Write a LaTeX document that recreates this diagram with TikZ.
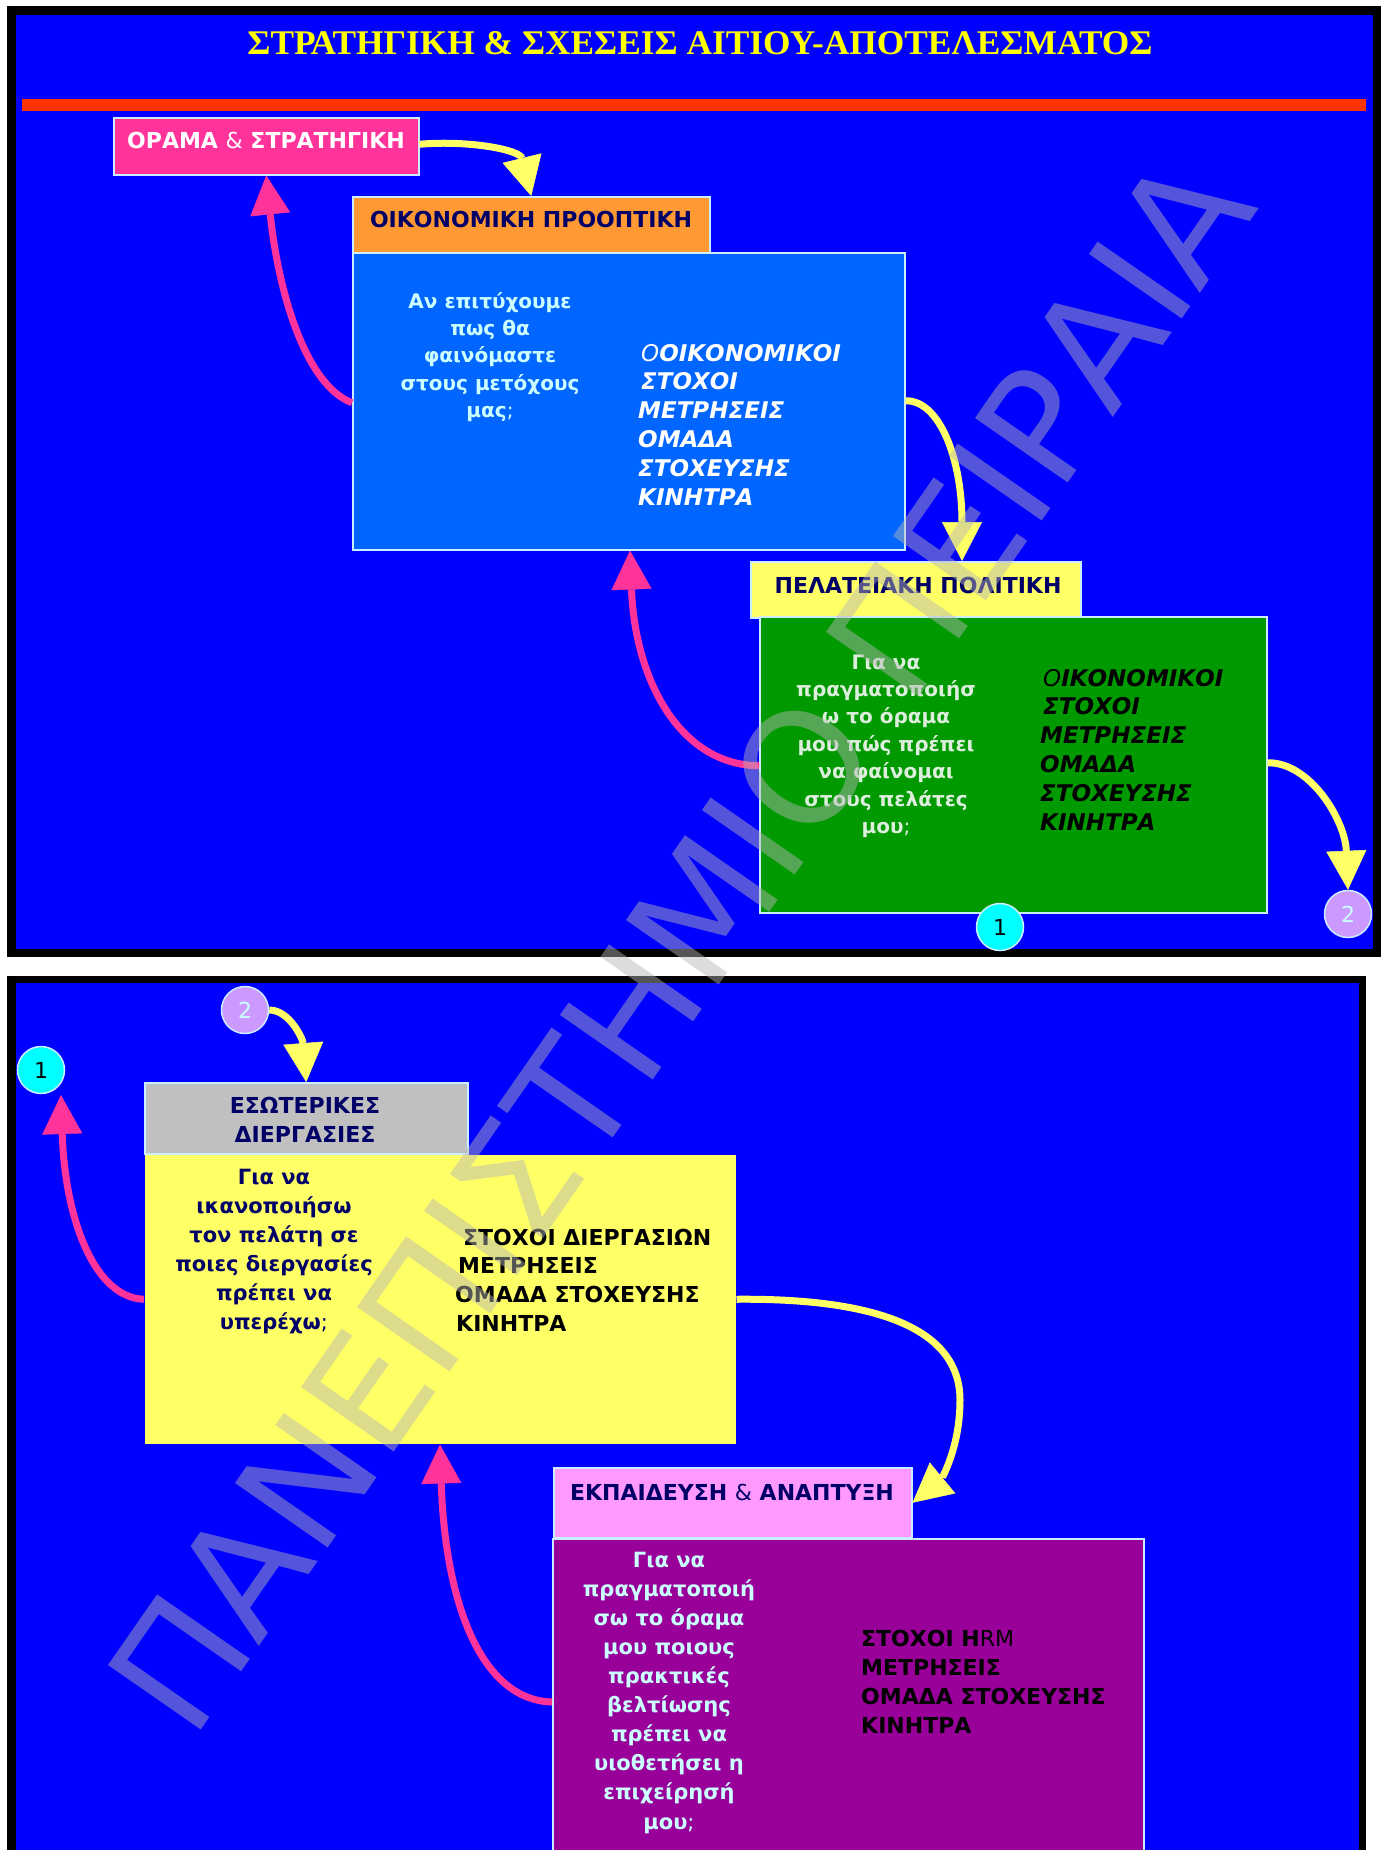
\documentclass[tikz,border=0pt]{standalone}
\usepackage{fontspec}
\setmainfont{DejaVu Sans}[BoldFont={DejaVu Sans Bold},ItalicFont={DejaVu Sans Oblique},BoldItalicFont={DejaVu Sans Bold Oblique}]
\newfontfamily\titlefont{Liberation Serif}
\usetikzlibrary{arrows.meta,calc}

\definecolor{slideblue}{HTML}{0000FF}
\definecolor{barred}{HTML}{FF3300}
\definecolor{titleyellow}{HTML}{FFFF00}
\definecolor{hotpink}{HTML}{FF3399}
\definecolor{paleyellow}{HTML}{FFFF66}
\definecolor{edgeblue}{HTML}{CCECFF}
\definecolor{orangehd}{HTML}{FF9933}
\definecolor{skyblue}{HTML}{0066FF}
\definecolor{deepnavy}{HTML}{000066}
\definecolor{lightcyan}{HTML}{CCFFFF}
\definecolor{grassgreen}{HTML}{009900}
\definecolor{palegreen}{HTML}{DDEEDD}
\definecolor{silvergray}{HTML}{C0C0C0}
\definecolor{orchidpink}{HTML}{FF99FF}
\definecolor{plumpurple}{HTML}{990099}
\definecolor{aquablue}{HTML}{00FFFF}
\definecolor{lavender}{HTML}{CC99FF}
\definecolor{wmgray}{HTML}{B6B6B6}

\tikzset{
  card/.style={draw=edgeblue, line width=1.5pt, inner sep=0pt, anchor=north west},
  badge/.style={circle, minimum size=47pt, inner sep=0pt, draw=edgeblue, line width=1.5pt,
                font=\fontsize{22}{24}\selectfont},
  hdtext/.style={font=\bfseries\fontsize{22}{26}\selectfont, text=deepnavy, inner sep=0pt, anchor=base},
  qtext/.style={align=center, anchor=north, inner sep=0pt},
  ltext/.style={align=left, anchor=north west, inner sep=0pt},
  tipshape/.style={-{Triangle[length=39pt 0 0,width=40pt 0 0,line width=0.5pt 0 0]}},
  sunarrow/.style={draw=paleyellow, line width=7pt, tipshape},
  pinkarrow/.style={draw=hotpink, line width=7pt, tipshape},
  wmark/.style={font=\fontsize{155}{160}\selectfont, text=wmgray, text opacity=0.47, inner sep=0pt}
}

\begin{document}
\begin{tikzpicture}[x=1pt,y=-1pt]
\useasboundingbox (0,0) rectangle (1384,1850);
\clip (0,0) rectangle (1384,1850);
\fill[white] (0,0) rectangle (1384,1850);

% upper slide frame
\fill[black] (7,6) rectangle (1381,957);
\fill[slideblue] (16,15) rectangle (1373,949);
\fill[barred] (22,99) rectangle (1366,111);
% lower slide frame
\fill[black] (7,976) rectangle (1366,1870);
\fill[slideblue] (16,983) rectangle (1359,1870);

% title
\node[anchor=south, inner sep=0pt, text=titleyellow] (title) at (700,55)
  {\resizebox{905pt}{23pt}{\titlefont\bfseries ΣΤΡΑΤΗΓΙΚΗ \& ΣΧΕΣΕΙΣ ΑΙΤΙΟΥ-ΑΠΟΤΕΛΕΣΜΑΤΟΣ}};

% upper slide boxes
\node[card, fill=hotpink, minimum width=305pt, minimum height=57pt] (orama) at (113,117) {};
\node[card, fill=orangehd, minimum width=357pt, minimum height=57pt] (oikhead) at (352,196) {};
\node[card, fill=skyblue, minimum width=552pt, minimum height=297pt] (oikbox) at (352,252) {};
\node[card, fill=paleyellow, minimum width=330pt, minimum height=56pt] (pelhead) at (750,561) {};
\node[card, fill=grassgreen, minimum width=507pt, minimum height=296pt] (pelbox) at (759,616) {};
\node[badge, fill=aquablue, text=black] (oneA) at (1000,927) {1};
\node[badge, fill=lavender, text=lightcyan] (twoA) at (1348,914) {2};

% lower slide boxes
\node[badge, fill=lavender, text=lightcyan] (twoB) at (245,1010) {2};
\node[badge, fill=aquablue, text=black] (oneB) at (41,1070) {1};
\node[card, fill=silvergray, minimum width=323pt, minimum height=71pt] (eswhead) at (144,1082) {};
\node[card, draw=none, fill=paleyellow, minimum width=591pt, minimum height=289pt] (eswbox) at (144,1154) {};
\node[card, fill=orchidpink, minimum width=358pt, minimum height=70pt] (eduhead) at (553,1467) {};
\node[card, fill=plumpurple, minimum width=591pt, minimum height=340pt] (edubox) at (552,1538) {};

% headings
\node[hdtext, text=white] (oramaT) at (266,148) {ΟΡΑΜΑ {\mdseries\&} ΣΤΡΑΤΗΓΙΚΗ};
\node[hdtext] (oikT) at (531,227) {ΟΙΚΟΝΟΜΙΚΗ ΠΡΟΟΠΤΙΚΗ};
\node[hdtext] (pelT) at (918,593) {ΠΕΛΑΤΕΙΑΚΗ ΠΟΛΙΤΙΚΗ};
\node[hdtext, anchor=north, align=center, font=\bfseries\fontsize{22}{29}\selectfont] (eswT) at (305,1092.7)
  {\strut ΕΣΩΤΕΡΙΚΕΣ\\\strut ΔΙΕΡΓΑΣΙΕΣ};
\node[hdtext] (eduT) at (732,1500) {ΕΚΠΑΙΔΕΥΣΗ {\mdseries\&} ΑΝΑΠΤΥΞΗ};

% financial perspective texts
\node[qtext, text=lightcyan, font=\bfseries\fontsize{20}{27.4}\selectfont] (oikQ) at (490,288.8)
  {\strut Αν επιτύχουμε\\\strut πως θα\\\strut φαινόμαστε\\\strut στους μετόχους\\\strut μας{\mdseries;}};
\node[ltext, text=white, font=\bfseries\itshape\fontsize{23}{28.8}\selectfont] (oikL) at (638,340.8)
  {\hspace*{3pt}\strut{\mdseries Ο}ΟΙΚΟΝΟΜΙΚΟΙ\\\hspace*{3pt}\strut ΣΤΟΧΟΙ\\\strut ΜΕΤΡΗΣΕΙΣ\\\strut ΟΜΑΔΑ\\\strut ΣΤΟΧΕΥΣΗΣ\\\strut ΚΙΝΗΤΡΑ};

% customer texts
\node[qtext, text=palegreen, font=\bfseries\fontsize{20}{27.4}\selectfont] (pelQ) at (886,649.8)
  {\strut Για να\\\strut πραγματοποιήσ\\\strut ω το όραμα\\\strut μου πώς πρέπει\\\strut να φαίνομαι\\\strut στους πελάτες\\\strut μου{\mdseries;}};
\node[ltext, text=black, font=\bfseries\itshape\fontsize{23}{28.8}\selectfont] (pelL) at (1040,665.8)
  {\hspace*{3pt}\strut{\mdseries Ο}ΙΚΟΝΟΜΙΚΟΙ\\\hspace*{3pt}\strut ΣΤΟΧΟΙ\\\strut ΜΕΤΡΗΣΕΙΣ\\\strut ΟΜΑΔΑ\\\strut ΣΤΟΧΕΥΣΗΣ\\\strut ΚΙΝΗΤΡΑ};

% internal process texts
\node[qtext, text=deepnavy, font=\bfseries\fontsize{21}{29}\selectfont] (eswQ) at (274,1163.7)
  {\strut Για να\\\strut ικανοποιήσω\\\strut τον πελάτη σε\\\strut ποιες διεργασίες\\\strut πρέπει να\\\strut υπερέχω{\mdseries;}};
\node[ltext, text=black, font=\bfseries\fontsize{22}{28.7}\selectfont] (eswL) at (455,1224.9)
  {\hspace*{8pt}\strut ΣΤΟΧΟΙ ΔΙΕΡΓΑΣΙΩΝ\\\hspace*{3pt}\strut ΜΕΤΡΗΣΕΙΣ\\\strut ΟΜΑΔΑ ΣΤΟΧΕΥΣΗΣ\\\hspace*{1pt}\strut ΚΙΝΗΤΡΑ};

% learning and growth texts
\node[qtext, text=lightcyan, font=\bfseries\fontsize{21}{29.1}\selectfont] (eduQ) at (669,1546.6)
  {\strut Για να\\\strut πραγματοποιή\\\strut σω το όραμα\\\strut μου ποιους\\\strut πρακτικές\\\strut βελτίωσης\\\strut πρέπει να\\\strut υιοθετήσει η\\\strut επιχείρησή\\\strut μου{\mdseries;}};
\node[ltext, text=black, font=\bfseries\fontsize{22}{29}\selectfont] (eduL) at (861,1625.7)
  {\strut ΣΤΟΧΟΙ H{\mdseries RM}\\\strut ΜΕΤΡΗΣΕΙΣ\\\strut ΟΜΑΔΑ ΣΤΟΧΕΥΣΗΣ\\\strut ΚΙΝΗΤΡΑ};

% cause-and-effect connectors, upper slide
\draw[sunarrow] ($(orama.east)+(0,-2)$) .. controls (470,140) and (520,150) .. (oikhead.north);
\draw[pinkarrow] ($(oikbox.west)+(0,1.5)$) .. controls (305,385) and (278,290) .. (orama.south);
\draw[sunarrow] ($(oikbox.east)+(0,-0.5)$) .. controls (940,400) and (962,460) .. ($(pelhead.north west)+(212,0)$);
\draw[pinkarrow] ($(pelbox.west)+(0,1)$) .. controls (680,765) and (635,680) .. ($(oikbox.south west)+(278,0)$);
\draw[sunarrow] ($(pelbox.east)+(0,-2)$) .. controls (1310,762) and (1345,820) .. (twoA.north);

% cause-and-effect connectors, lower slide
\draw[sunarrow] (twoB.east) .. controls (290,1010) and (303,1040) .. (eswhead.north);
\draw[pinkarrow] (eswbox.west) .. controls (95,1298) and (65,1220) .. ($(oneB.center)+(20,25)$);
\draw[sunarrow] (eswbox.east) .. controls (880,1298) and (960,1330) .. (960,1400)
  .. controls (960,1450) and (940,1480) .. (eduhead.east);
\draw[pinkarrow] ($(edubox.north west)+(0,164)$) .. controls (480,1700) and (445,1600) .. ($(eswbox.south west)+(296,0)$);

% watermark
\node[wmark, rotate=55.2, anchor=base] (wm) at (726,975) {ΠΑΝΕΠΙΣΤΗΜΙΟ ΠΕΙΡΑΙΑ};
\end{tikzpicture}
\end{document}
